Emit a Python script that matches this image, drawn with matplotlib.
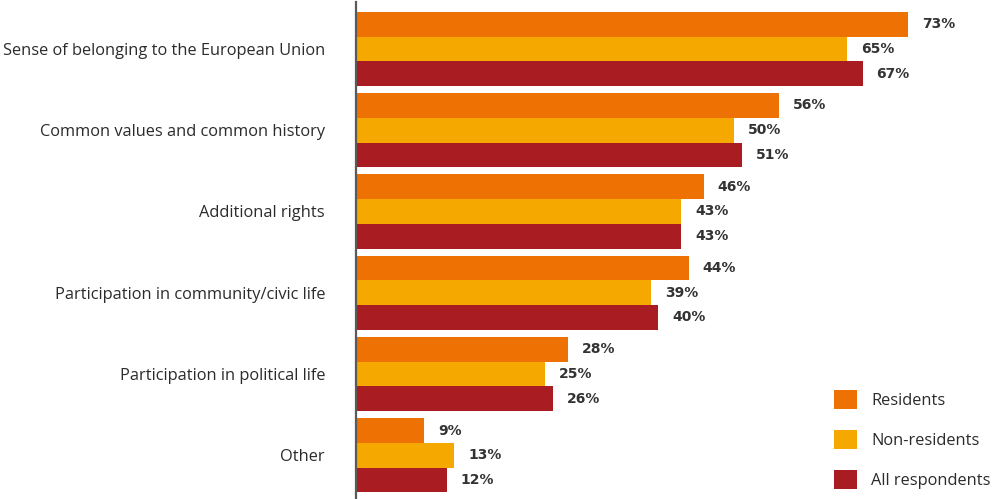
import numpy as np
import matplotlib
matplotlib.use('Agg')
import matplotlib.pyplot as plt

plt.rcParams['font.family'] = ['Open Sans', 'DejaVu Sans']

# data
categories = ["Sense of belonging to the European Union",
              "Common values and common history",
              "Additional rights",
              "Participation in community/civic life",
              "Participation in political life",
              "Other"]
series = ["Residents", "Non-residents", "All respondents"]
residents = [73, 56, 46, 44, 28, 9]
non_residents = [65, 50, 43, 39, 25, 13]
all_resp = [67, 51, 43, 40, 26, 12]
colors = ['#ED7203', '#F5A800', '#A81C22']

W, H = 995, 499
fig = plt.figure(figsize=(W / 100, H / 100), dpi=100)
# axes placed in pixel coords: left spine at x=356, top at y=2
left, right, top, bottom = 356, 995, 2, 499
ax = fig.add_axes([left / W, 1 - bottom / H, (right - left) / W, (bottom - top) / H])

px_per_pct = 7.56
ax.set_xlim(0, (right - left) / px_per_pct)
bar_h = 24.7
ax.set_ylim((bottom - top) / bar_h, 0)

pitch = 3.29
offset = 0.4
data = [residents, non_residents, all_resp]
handles = []
for k, (name, vals, c) in enumerate(zip(series, data, colors)):
    ys = np.array([offset + pitch * g + k + 0.5 for g in range(len(categories))])
    b = ax.barh(ys, vals, height=1.0, color=c, label=name)
    handles.append(b)
    for y, v in zip(ys, vals):
        ax.text(v + 14 / px_per_pct, y, f"{v}%", va='center', ha='left',
                fontsize=10, fontweight='bold', color='#333333',
                family='DejaVu Sans')

centers = [offset + pitch * g + 1.5 for g in range(len(categories))]
ax.set_yticks(centers)
ax.set_yticklabels(categories, fontsize=11.75, color='#2b2b2b')
ax.tick_params(axis='y', length=0, pad=22.3)
ax.set_xticks([])

for s in ['top', 'right', 'bottom']:
    ax.spines[s].set_visible(False)
ax.spines['left'].set_color('#5a5a5a')
ax.spines['left'].set_linewidth(1.6)

ax.legend(handles=handles, loc='upper left', frameon=False, borderpad=0,
          bbox_to_anchor=(826 / W, 1 - 382 / H), bbox_transform=fig.transFigure,
          fontsize=11.75, handlelength=1.4, handleheight=1.4,
          labelspacing=1.3, handletextpad=0.85, labelcolor='#2b2b2b')

fig.savefig('out.png', dpi=100)
